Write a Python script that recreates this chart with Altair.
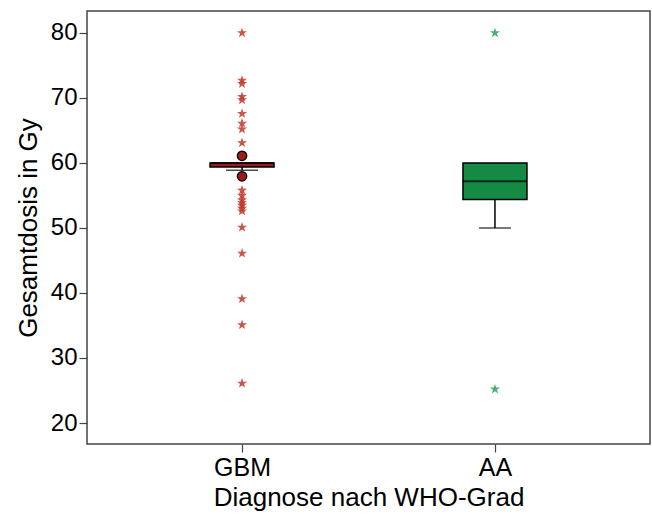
import altair as alt
import pandas as pd

groups = ["GBM", "AA"]
q1 = [59.4, 54.4]
median = [60.0, 57.2]
q3 = [60.0, 60.0]
whisker_low = [58.9, 50.0]
whisker_high = [60.0, 60.0]

gbm_outliers = [61.1, 57.95]
gbm_extremes = [80.0, 72.7, 72.2, 70.2, 69.7, 67.6, 66.1, 65.2, 63.1,
                55.8, 55.0, 54.3, 53.9, 53.5, 53.0, 52.6, 50.1, 46.1, 39.1, 35.1, 26.1]
aa_extremes = [80.0, 25.2]

box_colors = ["#9b1b1f", "#148a44"]
star_colors = ["#c0392b", "#27a35a"]

boxes = pd.DataFrame({"g": groups, "q1": q1, "med": median, "q3": q3,
                      "lo": whisker_low, "hi": whisker_high, "c": box_colors})
outl = pd.DataFrame({"g": ["GBM"] * len(gbm_outliers), "v": gbm_outliers})
ext = pd.DataFrame({
    "g": ["GBM"] * len(gbm_extremes) + ["AA"] * len(aa_extremes),
    "v": gbm_extremes + aa_extremes,
    "c": [star_colors[0]] * len(gbm_extremes) + [star_colors[1]] * len(aa_extremes),
})

star = ("M0,-1L0.235,-0.324L0.951,-0.309L0.380,0.124L0.588,0.809L0,0.4"
        "L-0.588,0.809L-0.380,0.124L-0.951,-0.309L-0.235,-0.324Z")

FONT = "Liberation Sans"
xenc = alt.X("g:N", sort=groups,
             scale=alt.Scale(type="point", padding=0.613),
             axis=alt.Axis(title="Diagnose nach WHO-Grad", labelAngle=0))
yscale = alt.Scale(domain=[16.77, 83.38], nice=False, zero=False)
yenc = alt.Y("lo:Q", scale=yscale,
             axis=alt.Axis(title="Gesamtdosis in Gy", values=[20, 30, 40, 50, 60, 70, 80],
                           grid=False))

base = alt.Chart(boxes)

whisk = base.mark_rule(color="black", strokeWidth=1.5).encode(x=xenc, y=yenc, y2="hi:Q")
caps = base.mark_tick(color="black", size=32, thickness=1.5, orient="horizontal").encode(
    x=xenc, y=alt.Y("lo:Q", scale=yscale))
box = base.mark_bar(size=64, stroke="black", strokeWidth=1.5).encode(
    x=xenc, y=alt.Y("q1:Q", scale=yscale), y2="q3:Q",
    color=alt.Color("c:N", scale=None))
med = base.mark_tick(color="black", size=64, thickness=2, orient="horizontal").encode(
    x=xenc, y=alt.Y("med:Q", scale=yscale))

circ = alt.Chart(outl).mark_point(shape="circle", size=90, filled=True, fill=box_colors[0],
                                   stroke="black", strokeWidth=1.2, opacity=1).encode(
    x=xenc, y=alt.Y("v:Q", scale=yscale))
stars = alt.Chart(ext).mark_point(shape=star, size=110, filled=True, opacity=0.85).encode(
    x=xenc, y=alt.Y("v:Q", scale=yscale), color=alt.Color("c:N", scale=None))

chart = alt.layer(whisk, caps, box, med, circ, stars).properties(
    width=563, height=433,
    autosize=alt.AutoSizeParams(type="none"),
    padding={"left": 87, "top": 11, "right": 2, "bottom": 78},
).configure_view(
    stroke="#444444", strokeWidth=1.5
).configure_axis(
    labelFont=FONT, titleFont=FONT, labelFontSize=24, titleFontSize=26,
    labelColor="black", titleColor="black", titleFontWeight="normal",
    domain=False, tickColor="#444444", tickSize=8, tickWidth=1.2,
).configure_axisY(
    labelPadding=2, titlePadding=9
).configure_axisX(
    labelFontSize=25, labelPadding=3, titlePadding=4
)

chart.save("out.html", embed_options={"renderer": "svg", "actions": False})
